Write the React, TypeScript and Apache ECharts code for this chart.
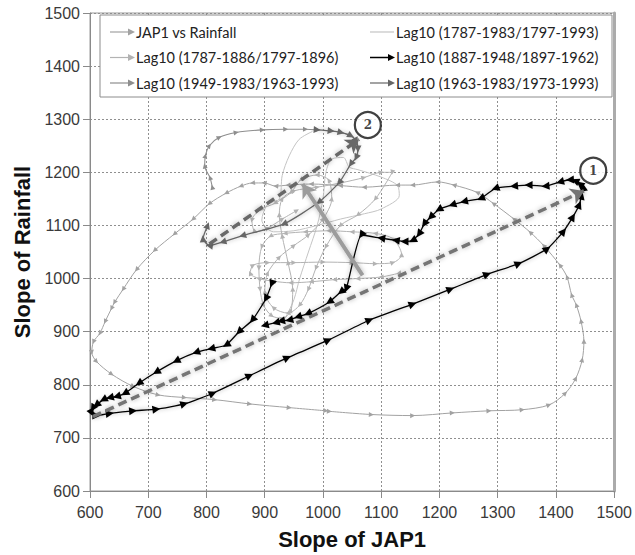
import React, { useEffect, useRef } from "react";
import * as echarts from "echarts";

const X_MIN = 600;
const X_MAX = 1500;
const Y_MIN = 600;
const Y_MAX = 1500;
const STEP = 100;

const X_TITLE = "Slope of JAP1";
const Y_TITLE = "Slope of Rainfall";

const SERIES_NAMES = [
  "JAP1 vs Rainfall",
  "Lag10 (1787-1983/1797-1993)",
  "Lag10 (1787-1886/1797-1896)",
  "Lag10 (1887-1948/1897-1962)",
  "Lag10 (1949-1983/1963-1993)",
  "Lag10 (1963-1983/1973-1993)",
];

// [slope of JAP1, slope of rainfall]
const JAP1_VS_RAINFALL = [
  [1011, 750], [1083, 744], [1154, 742], [1222, 747], [1285, 751], [1342, 753],
  [1388, 762], [1416, 784], [1434, 812], [1445, 847], [1448, 882], [1443, 920],
  [1435, 950], [1427, 969], [1419, 1003], [1407, 1025], [1379, 1062], [1356, 1087],
  [1328, 1112], [1293, 1141], [1265, 1162], [1225, 1176], [1197, 1182], [1154, 1176],
  [1128, 1176], [1071, 1172], [1030, 1175], [980, 1178], [940, 1176], [919, 1174],
  [899, 1180], [879, 1180], [859, 1174], [834, 1161], [805, 1141], [777, 1112],
  [745, 1084], [711, 1053], [680, 1017], [657, 980], [642, 955], [637, 944],
  [626, 919], [617, 897], [606, 881], [603, 861], [611, 844], [637, 820],
  [674, 797], [717, 781], [762, 776], [814, 772], [874, 764], [942, 757], [1005, 751],
];

const LAG10_1787_1983 = [
  [935, 925], [950, 960], [960, 1000], [975, 1050], [990, 1100], [1000, 1150],
  [1005, 1200], [1015, 1225], [1035, 1228], [1045, 1210], [1060, 1205], [1100, 1191],
  [1128, 1175], [1131, 1156], [1100, 1131], [1071, 1122], [1030, 1112], [990, 1100],
  [950, 1090], [915, 1088], [895, 1110], [905, 1140], [925, 1150], [930, 1194],
  [942, 1231], [959, 1262], [982, 1277],
];

const LAG10_1787_1886 = [
  [1130, 1010], [1100, 1003], [1060, 1000], [1020, 998], [980, 994], [945, 992],
  [915, 995], [890, 1000], [875, 1010], [880, 1025], [905, 1030], [950, 1030],
  [1000, 1031], [1050, 1030], [1090, 1028], [1120, 1030], [1135, 1045], [1120, 1075],
  [1090, 1085], [1050, 1088], [1010, 1090], [970, 1088], [935, 1085], [910, 1080],
  [895, 1060], [890, 1020], [892, 980], [898, 950], [912, 930], [930, 925],
  [945, 940], [948, 980], [940, 1030], [930, 1080], [925, 1120], [930, 1150],
  [950, 1165], [990, 1172], [1030, 1180], [1070, 1190], [1100, 1200], [1119, 1200],
  [1090, 1150], [1060, 1120], [1030, 1100], [1005, 1060], [988, 1020], [975, 980],
  [960, 950], [940, 935], [915, 945], [900, 975], [905, 1010], [925, 1040],
  [950, 1062], [975, 1082], [1000, 1112], [1015, 1150], [1010, 1185], [990, 1195],
  [962, 1186], [945, 1162], [918, 1142], [893, 1130], [878, 1110], [884, 1088],
  [905, 1095], [930, 1112], [955, 1128],
];

const LAG10_1887_1948 = [
  [912, 990], [902, 962], [879, 922], [856, 900], [834, 875],
  [808, 868], [782, 861], [748, 845], [714, 824], [684, 803], [660, 784],
  [646, 778], [634, 776], [623, 772], [611, 762], [605, 756], [603, 747],
  [611, 742], [634, 746], [674, 751], [714, 754], [762, 764], [811, 784],
  [874, 817], [939, 851], [1009, 884], [1080, 922], [1154, 952], [1219, 980],
  [1282, 1008], [1336, 1028], [1385, 1056], [1413, 1089], [1429, 1116], [1440, 1139],
  [1444, 1156], [1447, 1172], [1441, 1178], [1433, 1184], [1424, 1186], [1407, 1182],
  [1382, 1174], [1353, 1176], [1328, 1174], [1296, 1170], [1271, 1151], [1242, 1145],
  [1222, 1139], [1199, 1130], [1185, 1116], [1174, 1103], [1165, 1084], [1154, 1072],
  [1140, 1070], [1125, 1072], [1100, 1076], [1066, 1082], [1040, 981], [1031, 975],
  [1011, 956], [974, 934], [957, 928], [942, 922], [928, 920], [919, 917], [900, 912],
];

const LAG10_1949_1983 = [
  [810, 1172], [806, 1190], [797, 1212], [798, 1231], [805, 1250], [822, 1266],
  [851, 1275], [896, 1280], [936, 1281], [970, 1281], [990, 1280],
];

const LAG10_1963_1983 = [
  [990, 1280], [1014, 1278], [1031, 1275], [1048, 1269], [1057, 1259], [1060, 1244],
  [1057, 1228], [1048, 1216], [1028, 1181], [993, 1144], [933, 1103], [862, 1081],
  [828, 1069], [805, 1062], [794, 1075], [802, 1100],
];

// straight trend arrows drawn over the trajectories
const TREND_TO_1 = [[605, 740], [1448, 1165]];
const TREND_TO_2 = [[805, 1065], [1062, 1262]];
const TREND_BACK = [[1068, 1006], [965, 1178]];

const CALLOUT_POINTS = [[1464, 1203], [1077, 1289]];
const CALLOUT_LABELS = ["1", "2"];

const COLORS = ["#a2a2a2", "#c4c4c4", "#b3b3b3", "#000000", "#8e8e8e", "#666666"];

const GRID = { left: 90, right: 18, top: 13, bottom: 62 };
const W = 635;
const H = 555;

function withArrows(pts: number[][]) {
  const pxX = (W - GRID.left - GRID.right) / (X_MAX - X_MIN);
  const pxY = (H - GRID.top - GRID.bottom) / (Y_MAX - Y_MIN);
  return pts.map((p, i) => {
    const a = pts[Math.max(0, i - 1)];
    const b = pts[Math.min(pts.length - 1, i + 1)];
    const dx = (b[0] - a[0]) * pxX;
    const dy = (b[1] - a[1]) * pxY;
    const ang = (Math.atan2(dy, dx) * 180) / Math.PI;
    return { value: p, symbolRotate: ang - 90 };
  });
}

function pathSeries(
  idx: number,
  pts: number[][],
  opts: { width: number; sym: number; smooth: number; z: number; shadow?: boolean; noSymbol?: boolean }
) {
  return {
    type: "line",
    name: SERIES_NAMES[idx],
    data: withArrows(pts),
    smooth: opts.smooth,
    showSymbol: !opts.noSymbol,
    symbol: opts.noSymbol ? "none" : "triangle",
    symbolSize: opts.sym,
    z: opts.z,
    lineStyle: {
      color: COLORS[idx],
      width: opts.width,
      shadowBlur: opts.shadow ? 4 : 0,
      shadowColor: "rgba(0,0,0,0.35)",
    },
    itemStyle: { color: COLORS[idx], borderWidth: 0 },
    emphasis: { disabled: true },
  };
}

function trendSeries(coords: number[][], color: string, dashed: boolean, width: number) {
  return {
    type: "lines",
    coordinateSystem: "cartesian2d",
    z: 6,
    symbol: ["none", "arrow"],
    symbolSize: 13,
    data: [{ coords }],
    lineStyle: {
      color,
      width,
      type: dashed ? [9, 5] : "solid",
      opacity: 1,
      shadowBlur: 5,
      shadowColor: "rgba(0,0,0,0.3)",
    },
  };
}

function legendGraphics() {
  const rows = [32, 57.5, 83];
  const cols = [110, 370];
  const els: any[] = [
    {
      type: "rect",
      shape: { x: 100, y: 15, width: 512, height: 82 },
      style: { fill: "#ffffff", stroke: "#8c8c8c", lineWidth: 1 },
      z: 20,
    },
  ];
  const order = [0, 1, 2, 3, 4, 5];
  order.forEach((si, k) => {
    const c = cols[k % 2];
    const r = rows[Math.floor(k / 2)];
    const color = COLORS[si];
    const plain = si === 1;
    els.push({
      type: "line",
      shape: { x1: c, y1: r, x2: c + (plain ? 24 : 20), y2: r },
      style: { stroke: color, lineWidth: si === 3 ? 1.5 : 1.2 },
      z: 21,
    });
    if (!plain) {
      els.push({
        type: "polygon",
        shape: { points: [[c + 18, r - 3.5], [c + 25, r], [c + 18, r + 3.5]] },
        style: { fill: color },
        z: 21,
      });
    }
    els.push({
      type: "text",
      x: c + 26,
      y: r,
      style: {
        text: SERIES_NAMES[si],
        fill: "#222222",
        font: "14.5px Lato",
        textVerticalAlign: "middle",
        verticalAlign: "middle",
      },
      z: 21,
    });
  });
  return els;
}

export default function App() {
  const ref = useRef<HTMLDivElement>(null);
  useEffect(() => {
    if (!ref.current) return;
    const chart = echarts.init(ref.current, undefined, { renderer: "svg" });
    const axisLabel = {
      fontFamily: "Liberation Sans",
      fontSize: 16,
      color: "#3a3a3a",
      formatter: (v: number) => String(v),
    };
    const nameStyle = { fontFamily: "Liberation Sans", fontSize: 22, fontWeight: "bold", color: "#111111" };
    const split = { show: true, lineStyle: { color: "#8f8f8f", type: [2, 2], width: 1 } };
    chart.setOption({
      animation: false,
      backgroundColor: "#ffffff",
      grid: { ...GRID, show: true, borderColor: "#9a9a9a", borderWidth: 1 },
      xAxis: {
        type: "value",
        min: X_MIN,
        max: X_MAX,
        interval: STEP,
        name: X_TITLE,
        nameLocation: "middle",
        nameGap: 37,
        nameTextStyle: nameStyle,
        axisLine: { show: true, lineStyle: { color: "#8a8a8a" } },
        axisTick: { show: true, length: 7, inside: false, lineStyle: { color: "#8a8a8a" } },
        axisLabel: { ...axisLabel, margin: 13 },
        splitLine: split,
      },
      yAxis: [
        {
          type: "value",
          min: Y_MIN,
          max: Y_MAX,
          interval: STEP,
          name: Y_TITLE,
          nameLocation: "middle",
          nameGap: 56,
          nameTextStyle: nameStyle,
          axisLine: { show: true, lineStyle: { color: "#8a8a8a" } },
          axisTick: { show: true, length: 7, lineStyle: { color: "#8a8a8a" } },
          axisLabel: { ...axisLabel, margin: 10 },
          splitLine: split,
        },
        {
          type: "value",
          min: Y_MIN,
          max: Y_MAX,
          interval: STEP,
          position: "right",
          axisLine: { show: true, lineStyle: { color: "#ababab", width: 3 } },
          axisTick: { show: false },
          axisLabel: { show: false },
          splitLine: { show: false },
        },
      ],
      series: [
        pathSeries(0, JAP1_VS_RAINFALL, { width: 1, sym: 5, smooth: 0.3, z: 2 }),
        pathSeries(1, LAG10_1787_1983, { width: 1, sym: 0, smooth: 0.3, z: 2, noSymbol: true }),
        pathSeries(2, LAG10_1787_1886, { width: 1, sym: 5, smooth: 0.3, z: 3 }),
        pathSeries(4, LAG10_1949_1983, { width: 1.1, sym: 5, smooth: 0.3, z: 3 }),
        pathSeries(3, LAG10_1887_1948, { width: 1.3, sym: 8, smooth: 0.15, z: 4, shadow: true }),
        pathSeries(5, LAG10_1963_1983, { width: 1.3, sym: 7, smooth: 0.2, z: 4, shadow: true }),
        trendSeries(TREND_TO_1, "#747474", true, 3.5),
        trendSeries(TREND_TO_2, "#686868", true, 3.5),
        trendSeries(TREND_BACK, "#9c9c9c", false, 4),
        {
          type: "scatter",
          z: 8,
          data: CALLOUT_POINTS,
          symbol: "circle",
          symbolSize: 26,
          itemStyle: { color: "#ffffff", borderColor: "#111111", borderWidth: 2.2 },
          label: {
            show: true,
            position: "inside",
            formatter: (p: any) => CALLOUT_LABELS[p.dataIndex],
            color: "#111111",
            fontFamily: "DejaVu Serif",
            fontWeight: "bold",
            fontSize: 12,
          },
          emphasis: { disabled: true },
        },
      ],
      graphic: legendGraphics(),
    });
    return () => chart.dispose();
  }, []);
  return <div ref={ref} style={{ width: W, height: H, position: "absolute", left: 0, top: 0 }} />;
}
